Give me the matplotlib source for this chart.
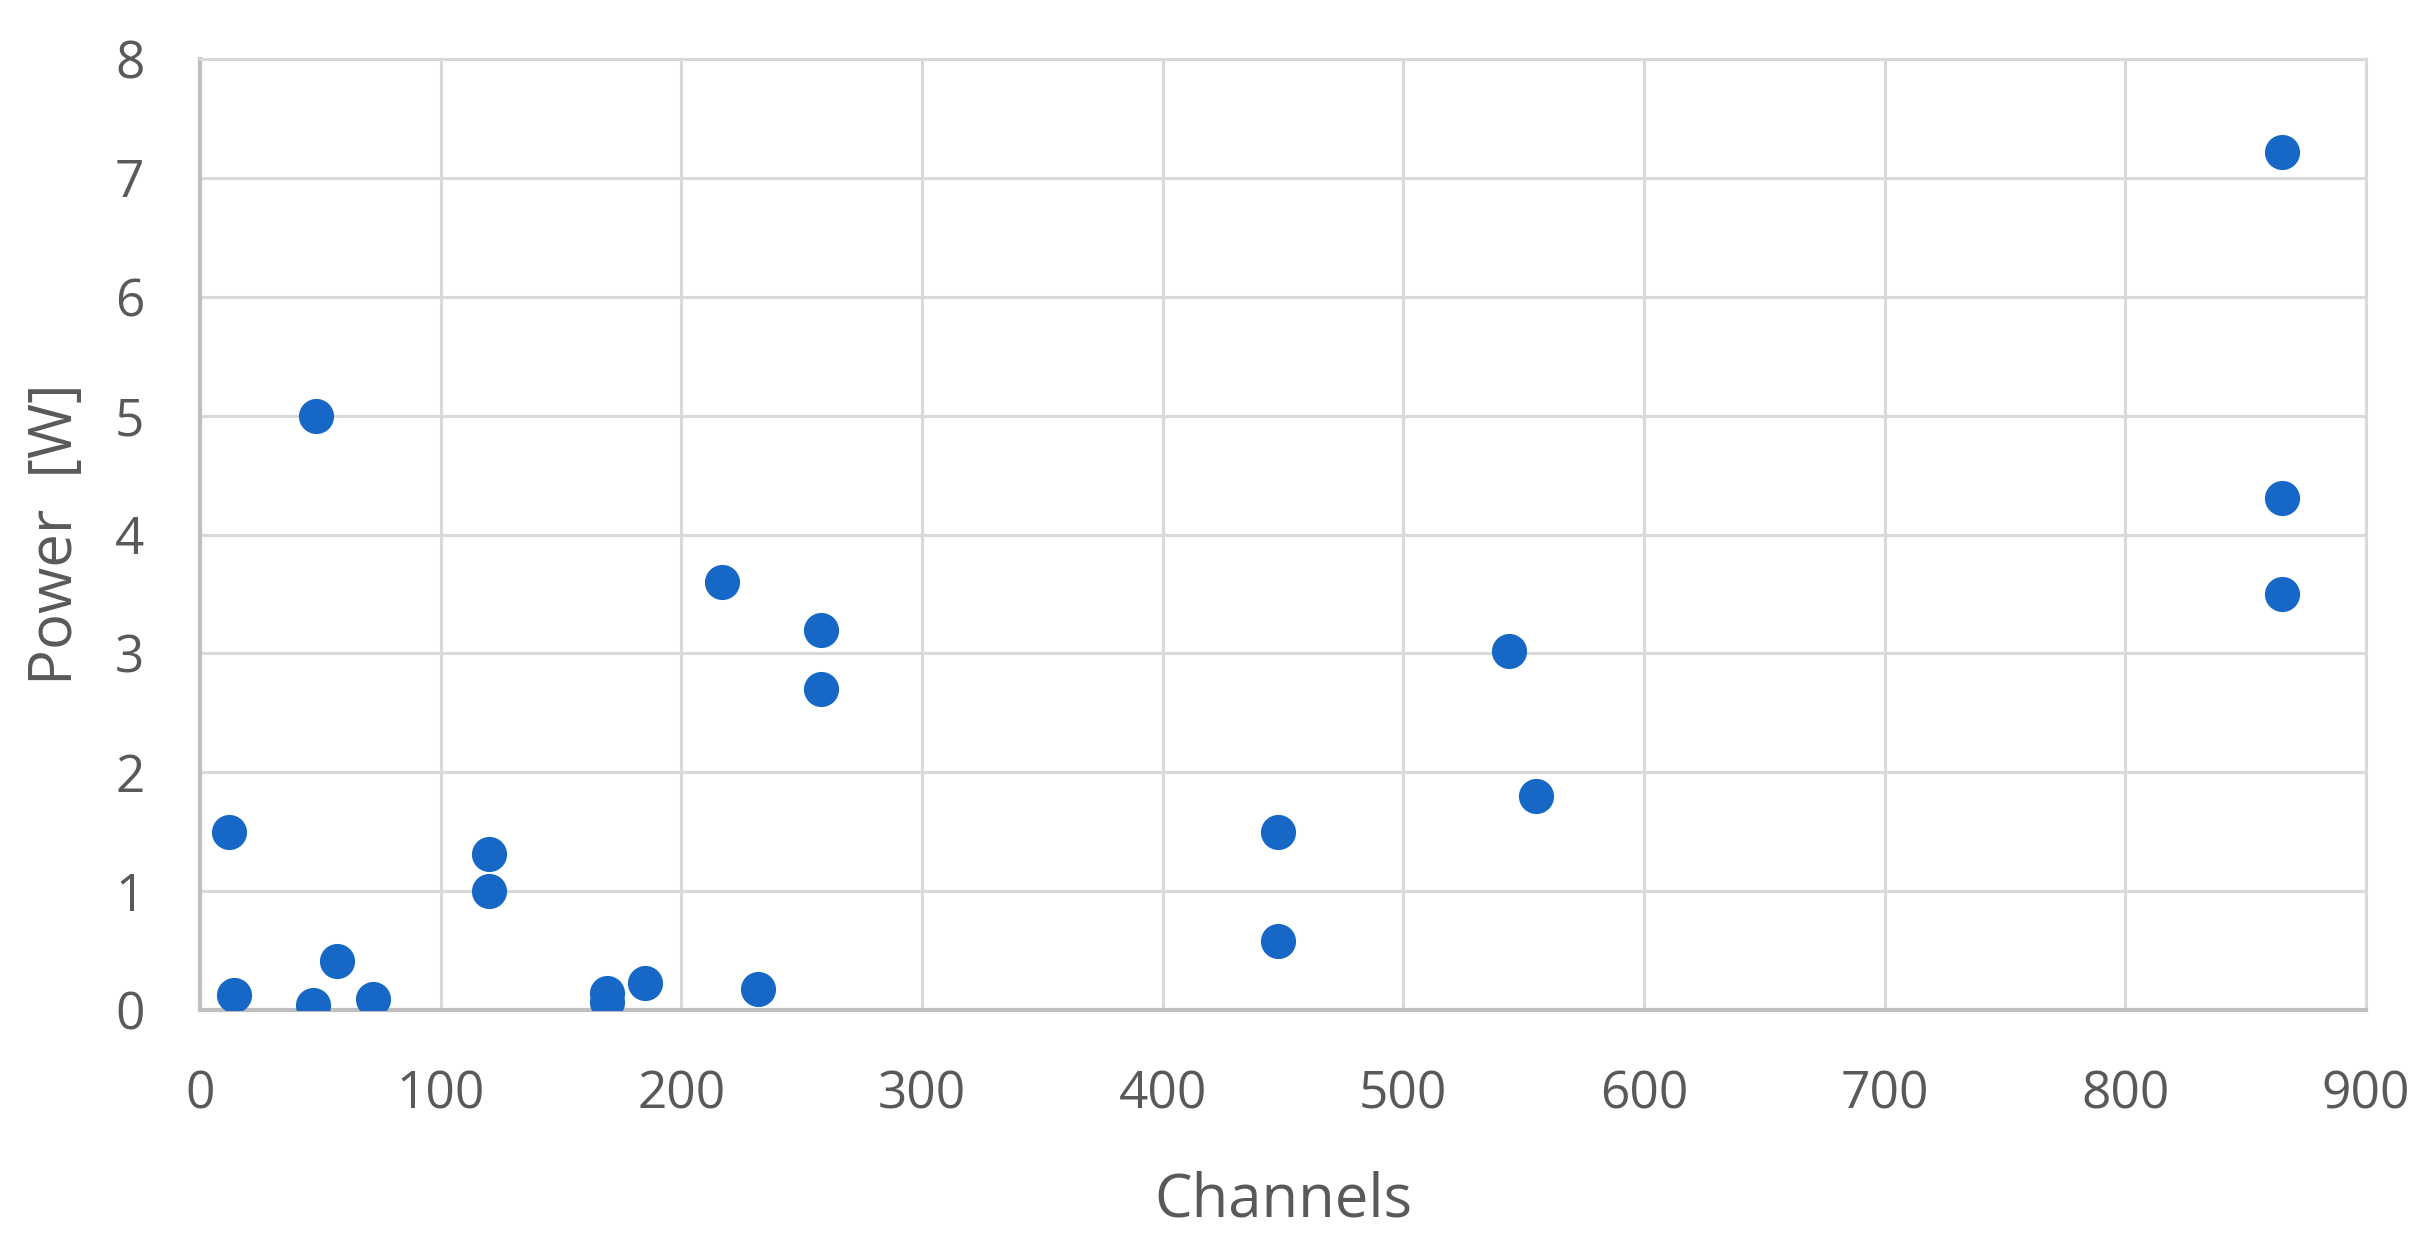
import matplotlib
matplotlib.use("Agg")
import matplotlib.pyplot as plt

channels = [12, 14, 48, 47, 57, 72, 120, 120, 169, 169, 185, 217, 232, 258, 258,
            448, 448, 544, 555, 865, 865, 865]
power = [1.5, 0.13, 5.0, 0.04, 0.41, 0.09, 1.31, 1.0, 0.14, 0.07, 0.23, 3.6, 0.18, 3.2, 2.7,
         1.5, 0.58, 3.02, 1.8, 7.22, 4.31, 3.5]

x_ticks = [0, 100, 200, 300, 400, 500, 600, 700, 800, 900]
y_ticks = [0, 1, 2, 3, 4, 5, 6, 7, 8]

plt.rcParams['font.family'] = ['Open Sans', 'DejaVu Sans']
text_color = '#595959'
grid_color = '#d9d9d9'

fig = plt.figure(figsize=(24.36, 12.48), dpi=100)
ax = fig.add_axes([200/2436, 1 - 1010/1248, 2166/2436, 951/1248])

ax.scatter(channels, power, s=640, color='#1667c6', zorder=3, linewidths=0)

ax.set_xlim(0, 900)
ax.set_ylim(0, 8)
ax.set_xticks(x_ticks)
ax.set_yticks(y_ticks)
ax.grid(True, color=grid_color, linewidth=2.2, zorder=0)
for side in ['top', 'right']:
    ax.spines[side].set_color(grid_color)
    ax.spines[side].set_linewidth(2.2)
for side in ['left', 'bottom']:
    ax.spines[side].set_color('#bfbfbf')
    ax.spines[side].set_linewidth(3)
ax.tick_params(axis='both', length=0, labelsize=37, colors=text_color)
ax.tick_params(axis='x', pad=43)
ax.tick_params(axis='y', pad=40)

ax.set_xlabel('Channels', fontsize=43, color=text_color)
ax.set_ylabel('Power  [W]', fontsize=43, color=text_color)
ax.xaxis.label.set_va('center')
ax.yaxis.label.set_va('center')
ax.xaxis.set_label_coords(0.5, -0.2)
ax.yaxis.set_label_coords(-0.0665, 0.5)

fig.savefig('out.png', dpi=100, facecolor='white')
